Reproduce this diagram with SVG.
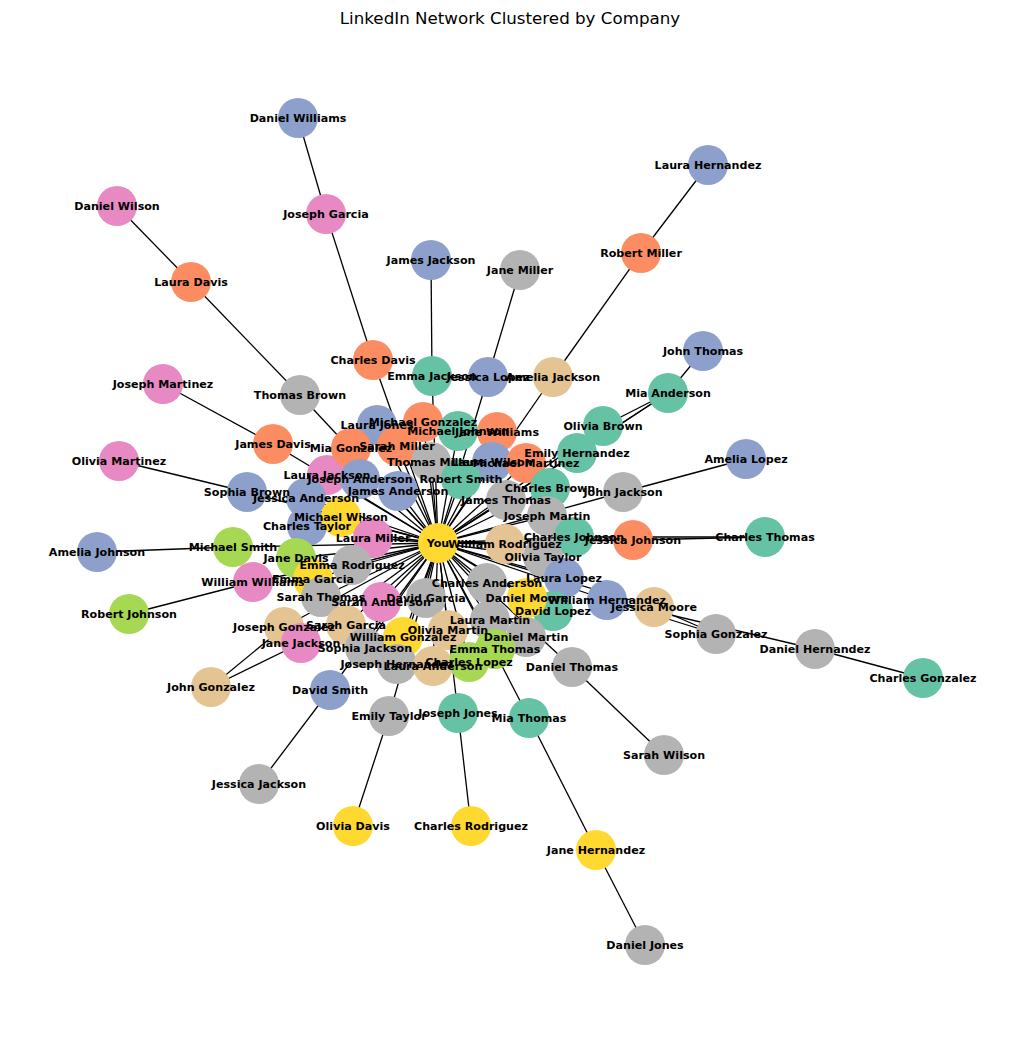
<svg xmlns="http://www.w3.org/2000/svg" width="1019" height="1042" viewBox="0 0 1019 1042">
<style>
.edge line{stroke:#000;stroke-width:1.3}
.node circle{r:20px}
.teal{fill:#66c2a5}.orange{fill:#fc8d62}.blue{fill:#8da0cb}.pink{fill:#e78ac3}.lime{fill:#a6d854}.yellow{fill:#ffd92f}.tan{fill:#e5c494}.gray{fill:#b3b3b3}
.labels text{font-family:"DejaVu Sans",sans-serif;font-weight:bold;font-size:11.1px;text-anchor:middle;dominant-baseline:central;fill:#000}
.title{font-family:"DejaVu Sans",sans-serif;font-size:16.7px;text-anchor:middle;dominant-baseline:central;fill:#000}
</style>
<rect width="1019" height="1042" fill="#fff"/>
<text class="title" x="510" y="18">LinkedIn Network Clustered by Company</text>
<g id="connectors" class="edge">
<line x1="298" y1="118" x2="326" y2="214"/>
<line x1="326" y1="214" x2="373" y2="360"/>
<line x1="117" y1="206" x2="191" y2="282"/>
<line x1="191" y1="282" x2="300" y2="395"/>
<line x1="163" y1="384" x2="273" y2="444"/>
<line x1="119" y1="461" x2="247" y2="492"/>
<line x1="97" y1="552" x2="233" y2="547"/>
<line x1="129" y1="614" x2="253" y2="582"/>
<line x1="211" y1="687" x2="284" y2="627"/>
<line x1="211" y1="687" x2="301" y2="643"/>
<line x1="259" y1="784" x2="330" y2="690"/>
<line x1="353" y1="826" x2="389" y2="716"/>
<line x1="471" y1="826" x2="458" y2="713"/>
<line x1="645" y1="945" x2="596" y2="850"/>
<line x1="596" y1="850" x2="529" y2="718"/>
<line x1="664" y1="755" x2="572" y2="667"/>
<line x1="923" y1="678" x2="815" y2="649"/>
<line x1="607" y1="600" x2="815" y2="649"/>
<line x1="607" y1="600" x2="716" y2="634"/>
<line x1="654" y1="607" x2="716" y2="634"/>
<line x1="708" y1="165" x2="641" y2="253"/>
<line x1="641" y1="253" x2="553" y2="377"/>
<line x1="520" y1="270" x2="488" y2="377"/>
<line x1="431" y1="260" x2="432" y2="376"/>
<line x1="703" y1="351" x2="668" y2="393"/>
<line x1="668" y1="393" x2="603" y2="426"/>
<line x1="668" y1="393" x2="577" y2="453"/>
<line x1="746" y1="459" x2="623" y2="492"/>
<line x1="765" y1="537" x2="633" y2="540"/>
<line x1="765" y1="537" x2="574" y2="537"/>
<line x1="438" y1="543" x2="373" y2="360"/>
<line x1="438" y1="543" x2="300" y2="395"/>
<line x1="438" y1="543" x2="432" y2="376"/>
<line x1="438" y1="543" x2="488" y2="377"/>
<line x1="438" y1="543" x2="553" y2="377"/>
<line x1="438" y1="543" x2="377" y2="425"/>
<line x1="438" y1="543" x2="423" y2="422"/>
<line x1="438" y1="543" x2="458" y2="431"/>
<line x1="438" y1="543" x2="497" y2="432"/>
<line x1="438" y1="543" x2="603" y2="426"/>
<line x1="438" y1="543" x2="351" y2="448"/>
<line x1="438" y1="543" x2="397" y2="446"/>
<line x1="438" y1="543" x2="273" y2="444"/>
<line x1="438" y1="543" x2="431" y2="462"/>
<line x1="438" y1="543" x2="492" y2="462"/>
<line x1="438" y1="543" x2="526" y2="463"/>
<line x1="438" y1="543" x2="577" y2="453"/>
<line x1="438" y1="543" x2="327" y2="475"/>
<line x1="438" y1="543" x2="360" y2="479"/>
<line x1="438" y1="543" x2="398" y2="491"/>
<line x1="438" y1="543" x2="461" y2="479"/>
<line x1="438" y1="543" x2="550" y2="488"/>
<line x1="438" y1="543" x2="623" y2="492"/>
<line x1="438" y1="543" x2="247" y2="492"/>
<line x1="438" y1="543" x2="306" y2="498"/>
<line x1="438" y1="543" x2="506" y2="500"/>
<line x1="438" y1="543" x2="547" y2="516"/>
<line x1="438" y1="543" x2="341" y2="517"/>
<line x1="438" y1="543" x2="307" y2="526"/>
<line x1="438" y1="543" x2="373" y2="538"/>
<line x1="438" y1="543" x2="505" y2="544"/>
<line x1="438" y1="543" x2="574" y2="537"/>
<line x1="438" y1="543" x2="633" y2="540"/>
<line x1="438" y1="543" x2="543" y2="557"/>
<line x1="438" y1="543" x2="233" y2="547"/>
<line x1="438" y1="543" x2="296" y2="558"/>
<line x1="438" y1="543" x2="352" y2="565"/>
<line x1="438" y1="543" x2="253" y2="582"/>
<line x1="438" y1="543" x2="313" y2="579"/>
<line x1="438" y1="543" x2="487" y2="583"/>
<line x1="438" y1="543" x2="564" y2="578"/>
<line x1="438" y1="543" x2="321" y2="597"/>
<line x1="438" y1="543" x2="381" y2="602"/>
<line x1="438" y1="543" x2="426" y2="598"/>
<line x1="438" y1="543" x2="527" y2="598"/>
<line x1="438" y1="543" x2="607" y2="600"/>
<line x1="438" y1="543" x2="553" y2="611"/>
<line x1="438" y1="543" x2="654" y2="607"/>
<line x1="438" y1="543" x2="284" y2="627"/>
<line x1="438" y1="543" x2="346" y2="625"/>
<line x1="438" y1="543" x2="448" y2="630"/>
<line x1="438" y1="543" x2="490" y2="620"/>
<line x1="438" y1="543" x2="301" y2="643"/>
<line x1="438" y1="543" x2="403" y2="637"/>
<line x1="438" y1="543" x2="365" y2="648"/>
<line x1="438" y1="543" x2="526" y2="637"/>
<line x1="438" y1="543" x2="495" y2="649"/>
<line x1="438" y1="543" x2="397" y2="664"/>
<line x1="438" y1="543" x2="433" y2="666"/>
<line x1="438" y1="543" x2="469" y2="662"/>
<line x1="438" y1="543" x2="330" y2="690"/>
<line x1="438" y1="543" x2="572" y2="667"/>
<line x1="438" y1="543" x2="389" y2="716"/>
<line x1="438" y1="543" x2="458" y2="713"/>
<line x1="438" y1="543" x2="529" y2="718"/>
<line x1="438" y1="543" x2="668" y2="393"/>
</g>
<g id="nodes">
<g id="n-daniel-williams" class="node"><circle class="blue" cx="298" cy="118"/></g>
<g id="n-joseph-garcia" class="node"><circle class="pink" cx="326" cy="214"/></g>
<g id="n-daniel-wilson" class="node"><circle class="pink" cx="117" cy="206"/></g>
<g id="n-laura-davis" class="node"><circle class="orange" cx="191" cy="282"/></g>
<g id="n-laura-hernandez" class="node"><circle class="blue" cx="708" cy="165"/></g>
<g id="n-robert-miller" class="node"><circle class="orange" cx="641" cy="253"/></g>
<g id="n-james-jackson" class="node"><circle class="blue" cx="431" cy="260"/></g>
<g id="n-jane-miller" class="node"><circle class="gray" cx="520" cy="270"/></g>
<g id="n-john-thomas" class="node"><circle class="blue" cx="703" cy="351"/></g>
<g id="n-mia-anderson" class="node"><circle class="teal" cx="668" cy="393"/></g>
<g id="n-joseph-martinez" class="node"><circle class="pink" cx="163" cy="384"/></g>
<g id="n-olivia-martinez" class="node"><circle class="pink" cx="119" cy="461"/></g>
<g id="n-amelia-lopez" class="node"><circle class="blue" cx="746" cy="459"/></g>
<g id="n-charles-thomas" class="node"><circle class="teal" cx="765" cy="537"/></g>
<g id="n-amelia-johnson" class="node"><circle class="blue" cx="97" cy="552"/></g>
<g id="n-robert-johnson" class="node"><circle class="lime" cx="129" cy="614"/></g>
<g id="n-sophia-gonzalez" class="node"><circle class="gray" cx="716" cy="634"/></g>
<g id="n-daniel-hernandez" class="node"><circle class="gray" cx="815" cy="649"/></g>
<g id="n-charles-gonzalez" class="node"><circle class="teal" cx="923" cy="678"/></g>
<g id="n-john-gonzalez" class="node"><circle class="tan" cx="211" cy="687"/></g>
<g id="n-sarah-wilson" class="node"><circle class="gray" cx="664" cy="755"/></g>
<g id="n-jessica-jackson" class="node"><circle class="gray" cx="259" cy="784"/></g>
<g id="n-olivia-davis" class="node"><circle class="yellow" cx="353" cy="826"/></g>
<g id="n-charles-rodriguez" class="node"><circle class="yellow" cx="471" cy="826"/></g>
<g id="n-jane-hernandez" class="node"><circle class="yellow" cx="596" cy="850"/></g>
<g id="n-daniel-jones" class="node"><circle class="gray" cx="645" cy="945"/></g>
<g id="n-charles-davis" class="node"><circle class="orange" cx="373" cy="360"/></g>
<g id="n-thomas-brown" class="node"><circle class="gray" cx="300" cy="395"/></g>
<g id="n-emma-jackson" class="node"><circle class="teal" cx="432" cy="376"/></g>
<g id="n-jessica-lopez" class="node"><circle class="blue" cx="488" cy="377"/></g>
<g id="n-amelia-jackson" class="node"><circle class="tan" cx="553" cy="377"/></g>
<g id="n-olivia-brown" class="node"><circle class="teal" cx="603" cy="426"/></g>
<g id="n-james-davis" class="node"><circle class="orange" cx="273" cy="444"/></g>
<g id="n-laura-jones" class="node"><circle class="blue" cx="377" cy="425"/></g>
<g id="n-michael-gonzalez" class="node"><circle class="orange" cx="423" cy="422"/></g>
<g id="n-michael-johnson" class="node"><circle class="teal" cx="458" cy="431"/></g>
<g id="n-jane-williams" class="node"><circle class="orange" cx="497" cy="432"/></g>
<g id="n-laura-jackson" class="node"><circle class="pink" cx="327" cy="475"/></g>
<g id="n-mia-gonzalez" class="node"><circle class="orange" cx="351" cy="448"/></g>
<g id="n-sarah-miller" class="node"><circle class="orange" cx="397" cy="446"/></g>
<g id="n-thomas-miller" class="node"><circle class="gray" cx="431" cy="462"/></g>
<g id="n-laura-wilson" class="node"><circle class="blue" cx="492" cy="462"/></g>
<g id="n-michael-martinez" class="node"><circle class="orange" cx="526" cy="463"/></g>
<g id="n-emily-hernandez" class="node"><circle class="teal" cx="577" cy="453"/></g>
<g id="n-sophia-brown" class="node"><circle class="blue" cx="247" cy="492"/></g>
<g id="n-jessica-anderson" class="node"><circle class="blue" cx="306" cy="498"/></g>
<g id="n-joseph-anderson" class="node"><circle class="blue" cx="360" cy="479"/></g>
<g id="n-james-anderson" class="node"><circle class="blue" cx="398" cy="491"/></g>
<g id="n-robert-smith" class="node"><circle class="teal" cx="461" cy="479"/></g>
<g id="n-charles-brown" class="node"><circle class="teal" cx="550" cy="488"/></g>
<g id="n-john-jackson" class="node"><circle class="gray" cx="623" cy="492"/></g>
<g id="n-james-thomas" class="node"><circle class="gray" cx="506" cy="500"/></g>
<g id="n-joseph-martin" class="node"><circle class="gray" cx="547" cy="516"/></g>
<g id="n-charles-taylor" class="node"><circle class="blue" cx="307" cy="526"/></g>
<g id="n-michael-wilson" class="node"><circle class="yellow" cx="341" cy="517"/></g>
<g id="n-laura-miller" class="node"><circle class="pink" cx="373" cy="538"/></g>
<g id="n-charles-johnson" class="node"><circle class="teal" cx="574" cy="537"/></g>
<g id="n-jessica-johnson" class="node"><circle class="orange" cx="633" cy="540"/></g>
<g id="n-michael-smith" class="node"><circle class="lime" cx="233" cy="547"/></g>
<g id="n-jane-davis" class="node"><circle class="lime" cx="296" cy="558"/></g>
<g id="n-emma-rodriguez" class="node"><circle class="gray" cx="352" cy="565"/></g>
<g id="n-william-williams" class="node"><circle class="pink" cx="253" cy="582"/></g>
<g id="n-emma-garcia" class="node"><circle class="yellow" cx="313" cy="579"/></g>
<g id="n-sarah-thomas" class="node"><circle class="gray" cx="321" cy="597"/></g>
<g id="n-william-rodriguez" class="node"><circle class="tan" cx="505" cy="544"/></g>
<g id="n-olivia-taylor" class="node"><circle class="gray" cx="543" cy="557"/></g>
<g id="n-laura-lopez" class="node"><circle class="blue" cx="564" cy="578"/></g>
<g id="n-charles-anderson" class="node"><circle class="gray" cx="487" cy="583"/></g>
<g id="n-david-garcia" class="node"><circle class="gray" cx="426" cy="598"/></g>
<g id="n-sarah-anderson" class="node"><circle class="pink" cx="381" cy="602"/></g>
<g id="n-william-hernandez" class="node"><circle class="blue" cx="607" cy="600"/></g>
<g id="n-jessica-moore" class="node"><circle class="tan" cx="654" cy="607"/></g>
<g id="n-david-lopez" class="node"><circle class="teal" cx="553" cy="611"/></g>
<g id="n-daniel-moore" class="node"><circle class="yellow" cx="527" cy="598"/></g>
<g id="n-joseph-gonzalez" class="node"><circle class="tan" cx="284" cy="627"/></g>
<g id="n-jane-jackson" class="node"><circle class="pink" cx="301" cy="643"/></g>
<g id="n-sarah-garcia" class="node"><circle class="tan" cx="346" cy="625"/></g>
<g id="n-laura-martin" class="node"><circle class="gray" cx="490" cy="620"/></g>
<g id="n-olivia-martin" class="node"><circle class="tan" cx="448" cy="630"/></g>
<g id="n-daniel-martin" class="node"><circle class="gray" cx="526" cy="637"/></g>
<g id="n-sophia-jackson" class="node"><circle class="gray" cx="365" cy="648"/></g>
<g id="n-william-gonzalez" class="node"><circle class="yellow" cx="403" cy="637"/></g>
<g id="n-emma-thomas" class="node"><circle class="lime" cx="495" cy="649"/></g>
<g id="n-joseph-hernandez" class="node"><circle class="gray" cx="397" cy="664"/></g>
<g id="n-laura-anderson" class="node"><circle class="tan" cx="433" cy="666"/></g>
<g id="n-charles-lopez" class="node"><circle class="lime" cx="469" cy="662"/></g>
<g id="n-david-smith" class="node"><circle class="blue" cx="330" cy="690"/></g>
<g id="n-daniel-thomas" class="node"><circle class="gray" cx="572" cy="667"/></g>
<g id="n-emily-taylor" class="node"><circle class="gray" cx="389" cy="716"/></g>
<g id="n-joseph-jones" class="node"><circle class="teal" cx="458" cy="713"/></g>
<g id="n-mia-thomas" class="node"><circle class="teal" cx="529" cy="718"/></g>
<g id="n-you" class="node"><circle class="yellow" cx="438" cy="543"/></g>
</g>
<g id="labels" class="labels">
<text x="298" y="118">Daniel Williams</text>
<text x="326" y="214">Joseph Garcia</text>
<text x="117" y="206">Daniel Wilson</text>
<text x="191" y="282">Laura Davis</text>
<text x="708" y="165">Laura Hernandez</text>
<text x="641" y="253">Robert Miller</text>
<text x="431" y="260">James Jackson</text>
<text x="520" y="270">Jane Miller</text>
<text x="703" y="351">John Thomas</text>
<text x="668" y="393">Mia Anderson</text>
<text x="163" y="384">Joseph Martinez</text>
<text x="119" y="461">Olivia Martinez</text>
<text x="746" y="459">Amelia Lopez</text>
<text x="765" y="537">Charles Thomas</text>
<text x="97" y="552">Amelia Johnson</text>
<text x="129" y="614">Robert Johnson</text>
<text x="716" y="634">Sophia Gonzalez</text>
<text x="815" y="649">Daniel Hernandez</text>
<text x="923" y="678">Charles Gonzalez</text>
<text x="211" y="687">John Gonzalez</text>
<text x="664" y="755">Sarah Wilson</text>
<text x="259" y="784">Jessica Jackson</text>
<text x="353" y="826">Olivia Davis</text>
<text x="471" y="826">Charles Rodriguez</text>
<text x="596" y="850">Jane Hernandez</text>
<text x="645" y="945">Daniel Jones</text>
<text x="373" y="360">Charles Davis</text>
<text x="300" y="395">Thomas Brown</text>
<text x="432" y="376">Emma Jackson</text>
<text x="488" y="377">Jessica Lopez</text>
<text x="553" y="377">Amelia Jackson</text>
<text x="603" y="426">Olivia Brown</text>
<text x="273" y="444">James Davis</text>
<text x="377" y="425">Laura Jones</text>
<text x="423" y="422">Michael Gonzalez</text>
<text x="458" y="431">Michael Johnson</text>
<text x="497" y="432">Jane Williams</text>
<text x="327" y="475">Laura Jackson</text>
<text x="351" y="448">Mia Gonzalez</text>
<text x="397" y="446">Sarah Miller</text>
<text x="431" y="462">Thomas Miller</text>
<text x="492" y="462">Laura Wilson</text>
<text x="526" y="463">Michael Martinez</text>
<text x="577" y="453">Emily Hernandez</text>
<text x="247" y="492">Sophia Brown</text>
<text x="306" y="498">Jessica Anderson</text>
<text x="360" y="479">Joseph Anderson</text>
<text x="398" y="491">James Anderson</text>
<text x="461" y="479">Robert Smith</text>
<text x="550" y="488">Charles Brown</text>
<text x="623" y="492">John Jackson</text>
<text x="506" y="500">James Thomas</text>
<text x="547" y="516">Joseph Martin</text>
<text x="307" y="526">Charles Taylor</text>
<text x="341" y="517">Michael Wilson</text>
<text x="373" y="538">Laura Miller</text>
<text x="574" y="537">Charles Johnson</text>
<text x="633" y="540">Jessica Johnson</text>
<text x="233" y="547">Michael Smith</text>
<text x="296" y="558">Jane Davis</text>
<text x="352" y="565">Emma Rodriguez</text>
<text x="253" y="582">William Williams</text>
<text x="313" y="579">Emma Garcia</text>
<text x="321" y="597">Sarah Thomas</text>
<text x="505" y="544">William Rodriguez</text>
<text x="543" y="557">Olivia Taylor</text>
<text x="564" y="578">Laura Lopez</text>
<text x="487" y="583">Charles Anderson</text>
<text x="426" y="598">David Garcia</text>
<text x="381" y="602">Sarah Anderson</text>
<text x="607" y="600">William Hernandez</text>
<text x="654" y="607">Jessica Moore</text>
<text x="553" y="611">David Lopez</text>
<text x="527" y="598">Daniel Moore</text>
<text x="284" y="627">Joseph Gonzalez</text>
<text x="301" y="643">Jane Jackson</text>
<text x="346" y="625">Sarah Garcia</text>
<text x="490" y="620">Laura Martin</text>
<text x="448" y="630">Olivia Martin</text>
<text x="526" y="637">Daniel Martin</text>
<text x="365" y="648">Sophia Jackson</text>
<text x="403" y="637">William Gonzalez</text>
<text x="495" y="649">Emma Thomas</text>
<text x="397" y="664">Joseph Hernandez</text>
<text x="433" y="666">Laura Anderson</text>
<text x="469" y="662">Charles Lopez</text>
<text x="330" y="690">David Smith</text>
<text x="572" y="667">Daniel Thomas</text>
<text x="389" y="716">Emily Taylor</text>
<text x="458" y="713">Joseph Jones</text>
<text x="529" y="718">Mia Thomas</text>
<text x="438" y="543">You</text>
</g>
</svg>
